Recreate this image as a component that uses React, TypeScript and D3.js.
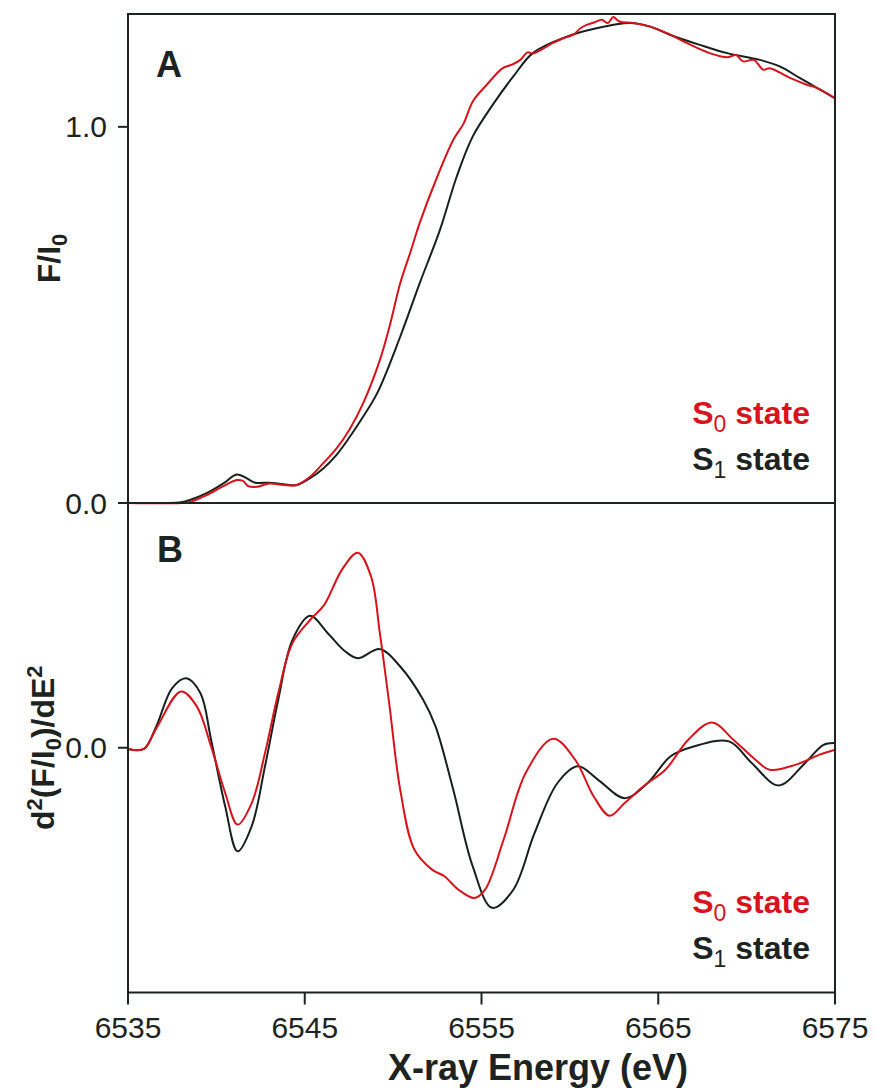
import React from "react";
import * as d3 from "d3";

// ---- Data ----
const xTicks = [6535, 6545, 6555, 6565, 6575];
const yTicksA = [0.0, 1.0];
const yTicksB = [0.0];

// Panel A: F/I0, S1 state (black)
const energyA_S1 = [6535.0, 6537.0, 6538.0, 6538.5, 6539.45, 6540.4, 6541.15, 6541.7, 6542.2, 6543.0, 6543.8, 6544.55, 6545.3, 6546.05, 6546.8, 6547.55, 6548.2, 6549.1, 6550.4, 6551.5, 6552.65, 6553.6, 6554.5, 6555.7, 6556.8, 6557.9, 6559.6, 6561.5, 6563.4, 6564.5, 6565.65, 6567.35, 6568.9, 6570.75, 6571.9, 6573.0, 6574.0, 6575.0];
const fluoA_S1 = [0.0, 0.0, 0.002, 0.008, 0.026, 0.052, 0.076, 0.066, 0.054, 0.054, 0.05, 0.048, 0.066, 0.092, 0.128, 0.176, 0.222, 0.292, 0.442, 0.584, 0.726, 0.868, 0.974, 1.063, 1.134, 1.196, 1.236, 1.262, 1.276, 1.267, 1.245, 1.218, 1.196, 1.178, 1.16, 1.13, 1.103, 1.076];

// Panel A: F/I0, S0 state (red)
const energyA_S0 = [6535.0, 6538.0, 6538.5, 6539.45, 6540.4, 6541.15, 6541.5, 6541.8, 6542.3, 6543.0, 6543.8, 6544.55, 6545.3, 6546.05, 6546.8, 6547.55, 6548.3, 6549.25, 6549.8, 6550.4, 6551.0, 6551.5, 6552.5, 6553.4, 6554.0, 6554.5, 6555.3, 6556.2, 6556.7, 6557.2, 6557.6, 6557.9, 6559.05, 6559.6, 6560.2, 6560.6, 6560.95, 6561.4, 6561.8, 6562.15, 6562.45, 6562.8, 6563.6, 6564.5, 6565.5, 6566.6, 6567.9, 6568.9, 6569.4, 6569.8, 6570.4, 6570.95, 6571.3, 6572.45, 6573.4, 6574.0, 6575.0];
const fluoA_S0 = [0.0, 0.0, 0.003, 0.021, 0.045, 0.061, 0.059, 0.045, 0.043, 0.052, 0.048, 0.048, 0.07, 0.106, 0.145, 0.197, 0.265, 0.38, 0.47, 0.584, 0.67, 0.744, 0.868, 0.965, 1.01, 1.067, 1.112, 1.156, 1.165, 1.178, 1.198, 1.195, 1.223, 1.235, 1.245, 1.262, 1.271, 1.278, 1.285, 1.276, 1.292, 1.28, 1.276, 1.267, 1.249, 1.223, 1.196, 1.185, 1.191, 1.174, 1.178, 1.152, 1.156, 1.13, 1.112, 1.103, 1.076];

// Panel B: second derivative, S1 state (black)
const energyB_S1 = [6535.0, 6535.9, 6536.6, 6537.5, 6538.3, 6539.1, 6539.7, 6540.5, 6541.2, 6542.0, 6542.75, 6543.5, 6544.3, 6545.3, 6546.3, 6547.3, 6548.0, 6549.25, 6550.4, 6551.7, 6552.4, 6553.4, 6554.5, 6555.6, 6556.8, 6558.0, 6559.3, 6560.45, 6561.6, 6563.1, 6564.4, 6565.7, 6567.0, 6569.0, 6570.3, 6571.8, 6573.3, 6574.35, 6575.0];
const derivB_S1 = [-0.005, -0.005, 0.087, 0.244, 0.284, 0.223, 0.033, -0.24, -0.423, -0.32, -0.076, 0.196, 0.44, 0.539, 0.468, 0.393, 0.366, 0.403, 0.332, 0.196, 0.087, -0.171, -0.484, -0.654, -0.58, -0.349, -0.144, -0.076, -0.131, -0.206, -0.144, -0.035, 0.005, 0.026, -0.063, -0.154, -0.063, 0.012, 0.019];

// Panel B: second derivative, S0 state (red)
const energyB_S0 = [6535.0, 6535.9, 6536.6, 6538.0, 6538.9, 6539.7, 6540.5, 6541.2, 6542.0, 6542.75, 6543.5, 6544.3, 6545.3, 6546.1, 6547.1, 6548.0, 6548.75, 6549.25, 6549.8, 6550.4, 6551.2, 6552.2, 6552.9, 6553.7, 6554.6, 6555.2, 6556.25, 6557.5, 6559.05, 6560.3, 6561.35, 6562.25, 6563.1, 6564.15, 6565.4, 6566.7, 6568.05, 6569.25, 6570.5, 6571.3, 6572.8, 6574.1, 6575.0];
const derivB_S0 = [-0.005, -0.005, 0.079, 0.23, 0.168, 0.005, -0.185, -0.314, -0.226, -0.022, 0.223, 0.427, 0.522, 0.584, 0.727, 0.797, 0.7, 0.468, 0.168, -0.171, -0.416, -0.498, -0.525, -0.58, -0.614, -0.58, -0.376, -0.103, 0.037, -0.049, -0.199, -0.278, -0.226, -0.158, -0.09, 0.033, 0.103, 0.033, -0.049, -0.09, -0.069, -0.029, -0.008];

// ---- Layout ----
const W = 876;
const H = 1090;
const left = 128;
const right = 835;
const topA = 14;
const mid = 503;
const bottom = 992.5;

const RED = "#d9131b";
const BLACK = "#18201c";
const INK = "#1d2320";
const FONT = "'Liberation Sans', Arial, Helvetica, sans-serif";

type Pt = [number, number];
const zip = (xs: number[], ys: number[]): Pt[] => xs.map((x, i) => [x, ys[i]]);

export default function App() {
  const x = d3.scaleLinear().domain([6535, 6575]).range([left, right]);
  const yA = d3.scaleLinear().domain([0, 1.3]).range([mid, topA]);
  const yB = d3.scaleLinear().domain([-1, 1]).range([bottom, mid]);

  const lineA = d3
    .line<Pt>()
    .x((d) => x(d[0]))
    .y((d) => yA(d[1]))
    .curve(d3.curveCatmullRom.alpha(0.5));
  const lineB = d3
    .line<Pt>()
    .x((d) => x(d[0]))
    .y((d) => yB(d[1]))
    .curve(d3.curveCatmullRom.alpha(0.5));

  const legend = (yBase: number) => (
    <g fontFamily={FONT} fontWeight="bold" fontSize={32} textAnchor="end">
      <text x={810} y={yBase} fill={RED}>
        S<tspan fontSize={23} fontWeight="normal" dy={8}>0</tspan>
        <tspan dy={-8}> state</tspan>
      </text>
      <text x={810} y={yBase + 46} fill={INK}>
        S<tspan fontSize={23} fontWeight="normal" dy={8}>1</tspan>
        <tspan dy={-8}> state</tspan>
      </text>
    </g>
  );

  return (
    <svg
      width={W}
      height={H}
      style={{ position: "absolute", left: 0, top: 0, display: "block", background: "#fff" }}
    >
      <rect x={0} y={0} width={W} height={H} fill="#fff" />

      {/* curves */}
      <g fill="none" strokeWidth={2} strokeLinejoin="round">
        <path d={lineA(zip(energyA_S1, fluoA_S1)) || ""} stroke={BLACK} />
        <path d={lineA(zip(energyA_S0, fluoA_S0)) || ""} stroke={RED} />
        <path d={lineB(zip(energyB_S1, derivB_S1)) || ""} stroke={BLACK} />
        <path d={lineB(zip(energyB_S0, derivB_S0)) || ""} stroke={RED} />
      </g>

      {/* frames */}
      <g fill="none" stroke={INK} strokeWidth={2}>
        <rect x={left} y={topA} width={right - left} height={mid - topA} />
        <rect x={left} y={mid} width={right - left} height={bottom - mid} />
      </g>

      {/* ticks and tick labels */}
      <g fontFamily={FONT} fontSize={30} fill={INK}>
        {yTicksA.map((t) => (
          <g key={"a" + t}>
            <line x1={left - 10} x2={left} y1={yA(t)} y2={yA(t)} stroke={INK} strokeWidth={2} />
            <text x={107} y={yA(t) + 10.5} textAnchor="end">
              {t.toFixed(1)}
            </text>
          </g>
        ))}
        {yTicksB.map((t) => (
          <g key={"b" + t}>
            <line x1={left - 10} x2={left} y1={yB(t)} y2={yB(t)} stroke={INK} strokeWidth={2} />
            <text x={107} y={yB(t) + 10.5} textAnchor="end">
              {t.toFixed(1)}
            </text>
          </g>
        ))}
        {xTicks.map((t) => (
          <g key={"x" + t}>
            <line x1={x(t)} x2={x(t)} y1={bottom} y2={bottom + 12} stroke={INK} strokeWidth={2} />
            <text x={x(t)} y={1038} textAnchor="middle">
              {t}
            </text>
          </g>
        ))}
      </g>

      {/* panel letters */}
      <g fontFamily={FONT} fontWeight="bold" fontSize={36} fill={INK}>
        <text x={156} y={77}>A</text>
        <text x={157} y={562}>B</text>
      </g>

      {/* legends */}
      {legend(424)}
      {legend(913)}

      {/* axis titles */}
      <g fontFamily={FONT} fontWeight="bold" fill={INK}>
        <text x={538} y={1080} textAnchor="middle" fontSize={36}>
          X-ray Energy (eV)
        </text>
        <text transform={`translate(60, ${(topA + mid) / 2}) rotate(-90)`} textAnchor="middle" fontSize={32}>
          F/I<tspan fontSize={22} dy={7}>0</tspan>
        </text>
        <text transform={`translate(54, ${(mid + bottom) / 2}) rotate(-90)`} textAnchor="middle" fontSize={32}>
          d<tspan fontSize={22} dy={-12}>2</tspan>
          <tspan dy={12}>(F/I</tspan>
          <tspan fontSize={22} dy={7}>0</tspan>
          <tspan dy={-7}>)/dE</tspan>
          <tspan fontSize={22} dy={-12}>2</tspan>
        </text>
      </g>
    </svg>
  );
}
